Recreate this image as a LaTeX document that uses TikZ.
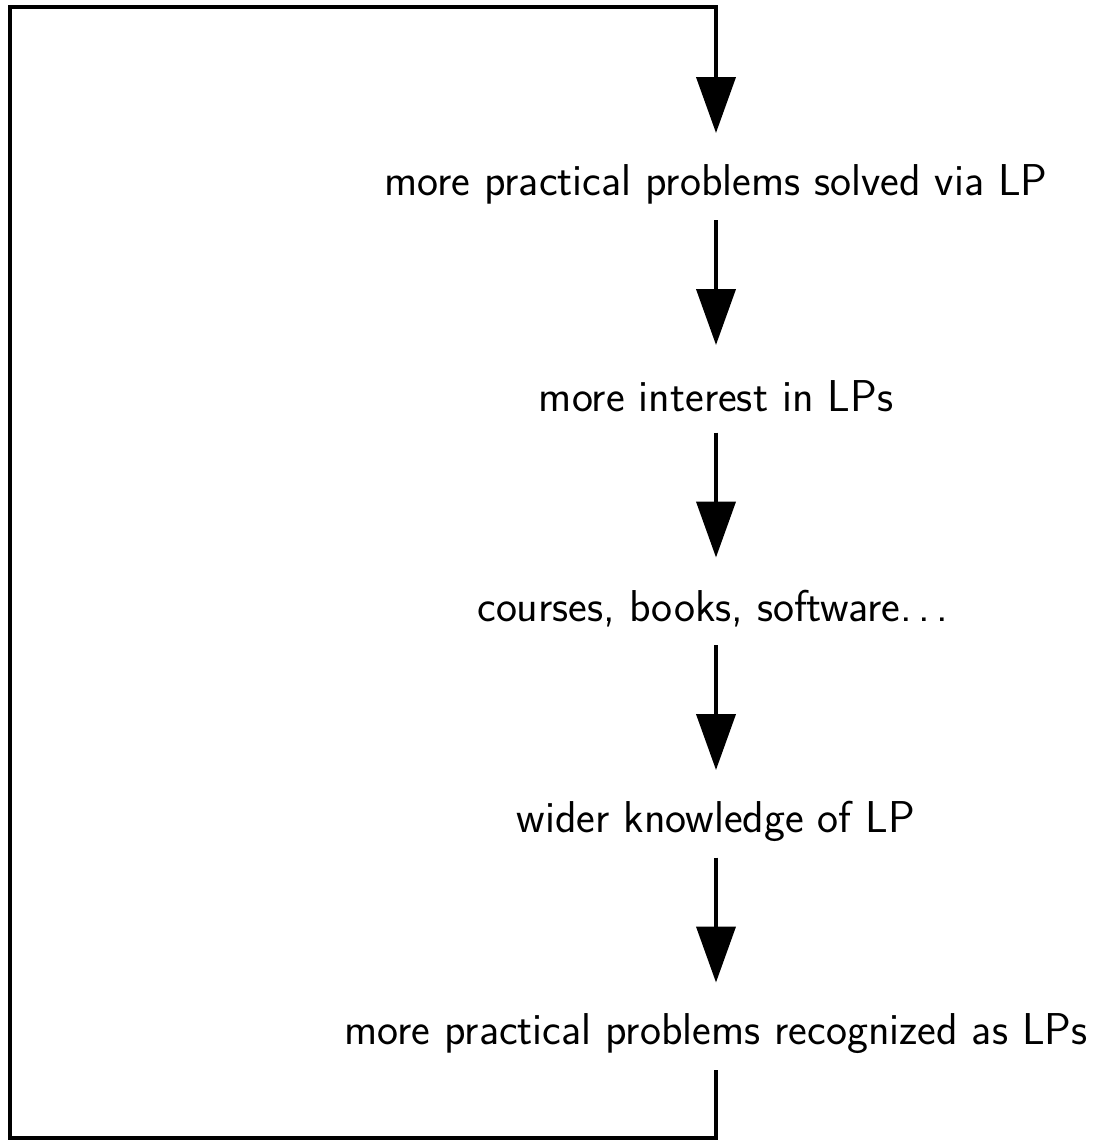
\documentclass[tikz,border=0pt]{standalone}
\usetikzlibrary{arrows.meta}
\begin{document}
\begin{tikzpicture}[x=1pt,y=-1pt,
  lbl/.style={inner sep=0pt,font=\fontsize{44.6}{54}\selectfont\sffamily},
  arr/.style={line width=4pt,-{Triangle[length=56pt,width=39pt]}}]
\useasboundingbox (0,0) rectangle (1096,1140);
\node[lbl] (t1) at (716,184) {more practical problems solved via LP};
\node[lbl] (t2) at (716,396.5) {more interest in LPs};
\node[lbl] (t3) at (716,609) {courses, books, software.\kern6.5pt.\kern6.5pt.\kern6.5pt};
\node[lbl] (t4) at (716,821.5) {wider knowledge of LP};
\node[lbl] (t5) at (716,1034) {more practical problems recognized as LPs};
\draw[arr] ([yshift=-36pt]t1.center) -- ([yshift=51.5pt]t2.center);
\draw[arr] ([yshift=-36pt]t2.center) -- ([yshift=51.5pt]t3.center);
\draw[arr] ([yshift=-36pt]t3.center) -- ([yshift=51.5pt]t4.center);
\draw[arr] ([yshift=-36pt]t4.center) -- ([yshift=51.5pt]t5.center);
\coordinate (bl) at (9.5,1137.5);
\coordinate (tl) at (9.5,7.5);
\draw[arr] ([yshift=-36pt]t5.center) |- (bl) -- (tl) -| ([yshift=51pt]t1.center);
\end{tikzpicture}
\end{document}
